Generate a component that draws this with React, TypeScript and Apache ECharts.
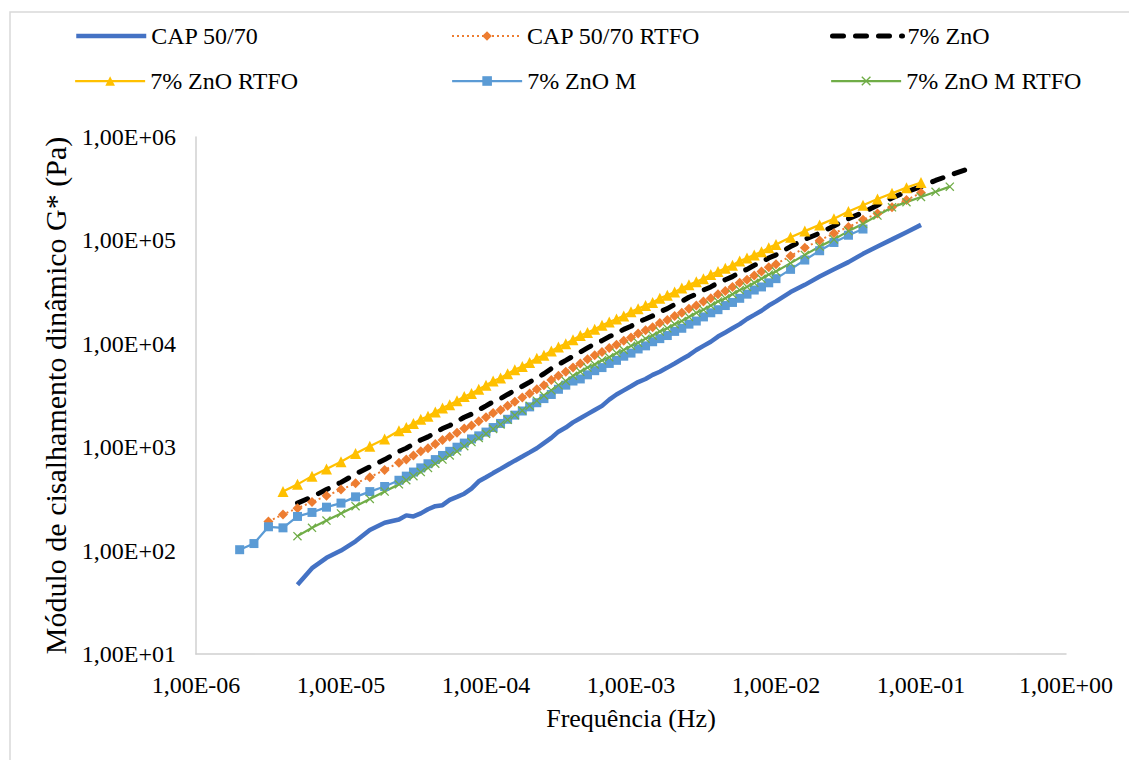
import React, { useEffect, useRef } from "react";
import * as echarts from "echarts";

// Frequency (Hz) grid, read along the x axis
const freqHz = [
  2.0e-6, 2.51e-6, 3.16e-6, 3.98e-6, 5.01e-6, 6.31e-6, 7.94e-6, 1.0e-5, 1.26e-5, 1.58e-5, 2.0e-5, 2.51e-5,
  2.82e-5, 3.16e-5, 3.55e-5, 3.98e-5, 4.47e-5, 5.01e-5, 5.62e-5, 6.31e-5, 7.08e-5, 7.94e-5, 8.91e-5,
  1.0e-4, 1.12e-4, 1.26e-4, 1.41e-4, 1.58e-4, 1.78e-4, 2.0e-4, 2.24e-4, 2.51e-4, 2.82e-4, 3.16e-4, 3.55e-4, 3.98e-4, 4.47e-4, 5.01e-4, 5.62e-4, 6.31e-4, 7.08e-4, 7.94e-4, 8.91e-4, 1.0e-3,
  1.12e-3, 1.26e-3, 1.41e-3, 1.58e-3, 1.78e-3, 2.0e-3, 2.24e-3, 2.51e-3, 2.82e-3, 3.16e-3, 3.55e-3, 3.98e-3, 4.47e-3, 5.01e-3, 5.62e-3, 6.31e-3, 7.08e-3, 7.94e-3, 8.91e-3,
  1.0e-2, 1.26e-2, 1.58e-2, 2.0e-2, 2.51e-2, 3.16e-2, 3.98e-2, 5.01e-2, 6.31e-2, 7.94e-2, 0.1, 0.126, 0.158, 0.2,
];

const seriesNames = ["CAP 50/70", "CAP 50/70 RTFO", "7% ZnO", "7% ZnO RTFO", "7% ZnO M", "7% ZnO M RTFO"];

// G* (Pa) per series, aligned with freqHz (null = no point)
const gCap = [
  null, null, null, null, 46.8, 67.6, 85.1, 100, 123, 158, 186, 200,
  219, 214, 229, 251, 269, 275, 309, 331, 355, 398, 468,
  513, 562, 617, 676, 741, 813, 891, 977, 1096, 1230, 1413, 1549, 1738, 1905, 2089, 2291, 2512, 2884, 3236, 3548, 3890,
  4266, 4571, 5012, 5370, 5888, 6457, 7079, 7762, 8710, 9550, 10470, 11750, 12880, 14130, 15490, 17380, 19050, 20890, 23440,
  25700, 31620, 37150, 44670, 52480, 61660, 74130, 87100, 102300, 120200, 141300, null, null, null,
];
const gCapRtfo = [
  null, null, 191, 224, 257, 295, 339, 389, 447, 513, 603, 708,
  759, 832, 912, 977, 1072, 1175, 1259, 1380, 1514, 1622, 1778,
  1950, 2138, 2291, 2512, 2754, 3020, 3311, 3631, 3981, 4467, 4898, 5370, 5888, 6457, 7079, 7762, 8318, 9120, 9772, 10720, 11480,
  12590, 13490, 14450, 15850, 16980, 18620, 19950, 21880, 23440, 25700, 27540, 30200, 32360, 35480, 38900, 41690, 45710, 50120, 54950,
  58880, 70790, 85110, 100000, 117500, 134900, 158500, 182000, 208900, 245500, 288400, null, null, null,
];
const gZnO = [
  null, null, null, null, 288, 331, 389, 457, 550, 646, 759, 912,
  977, 1072, 1175, 1259, 1380, 1514, 1622, 1778, 1950, 2089, 2291,
  2512, 2754, 2951, 3236, 3548, 3890, 4266, 4677, 5129, 5754, 6310, 6918, 7586, 8318, 9120, 10000, 10720, 11750, 12590, 13800, 14790,
  16220, 17380, 18620, 20420, 21880, 23990, 25700, 28180, 30200, 33110, 35480, 38900, 41690, 44670, 48980, 52480, 57540, 61660, 67610,
  72440, 87100, 102300, 117500, 138000, 162200, 186200, 218800, 257000, 295100, 331100, 380200, 426600, 478600,
];
const gZnORtfo = [
  null, null, null, 372, 437, 525, 617, 724, 871, 1020, 1200, 1445,
  1549, 1698, 1862, 1995, 2188, 2399, 2570, 2818, 3090, 3311, 3631,
  3981, 4365, 4677, 5129, 5623, 6026, 6607, 7244, 7762, 8511, 9333, 10000, 10960, 12020, 12880, 13800, 15140, 16220, 17380, 18620, 20420,
  21880, 23440, 25120, 27540, 29510, 31620, 34670, 37150, 39810, 42660, 46770, 50120, 53700, 57540, 63100, 67610, 72440, 77620, 85110,
  91200, 107200, 123000, 141300, 162200, 190500, 218800, 251200, 285000, 323600, 363100, null, null, null,
];
const gZnOM = [
  102, 117, 170, 166, 214, 234, 263, 288, 331, 372, 417, 479,
  525, 575, 631, 692, 759, 832, 912, 1000, 1096, 1202, 1288,
  1400, 1549, 1698, 1862, 2042, 2239, 2455, 2692, 2951, 3236, 3631, 3981, 4365, 4571, 5012, 5495, 5888, 6457, 6918, 7586, 8128,
  8913, 9550, 10470, 11220, 12020, 13180, 14130, 15490, 16600, 18200, 19950, 21380, 23440, 25120, 27540, 30200, 33110, 35480, 38900,
  42660, 52480, 64570, 79430, 95500, 112200, 128800, null, null, null, null, null, null, null,
];
const gZnOMRtfo = [
  null, null, null, null, 138, 166, 195, 229, 269, 316, 372, 437,
  479, 525, 575, 631, 692, 759, 832, 912, 1023, 1122, 1230,
  1349, 1500, 1660, 1840, 2042, 2265, 2512, 2818, 3162, 3548, 3981, 4365, 4898, 5370, 5888, 6310, 6918, 7413, 8128, 8710, 9550,
  10230, 11220, 12020, 13180, 14130, 15490, 16600, 18200, 19950, 21380, 23440, 25700, 27540, 30200, 33110, 35480, 38900, 42660, 46770,
  50120, 60260, 72440, 87100, 102300, 123000, 144500, 173800, 208900, 234400, 263000, 295100, 331100, null,
];

const xAxisTitle = "Frequência (Hz)";
const yAxisTitle = "Módulo de cisalhamento dinâmico G* (Pa)";

const FONT = "Liberation Serif";
const X_MARK = "path://M1,0 L5,4 L9,0 L10,1 L6,5 L10,9 L9,10 L5,6 L1,10 L0,9 L4,5 L0,1 Z";

const toPairs = (g: (number | null)[]) =>
  freqHz.map((f, i) => [f, g[i]]).filter((p) => p[1] != null);

const sci = (v: number) => {
  const e = Math.round(Math.log10(v));
  const s = e < 0 ? "-" : "+";
  return `1,00E${s}${String(Math.abs(e)).padStart(2, "0")}`;
};

const seriesStyles = [
  { color: "#4472C4", symbol: "none", size: 0, width: 4.5, type: "solid" as any },
  { color: "#ED7D31", symbol: "diamond", size: 10, width: 2, type: [2, 3] },
  { color: "#000000", symbol: "none", size: 0, width: 5, type: [11, 12] },
  { color: "#FFC000", symbol: "triangle", size: 11, width: 2.25, type: "solid" },
  { color: "#5B9BD5", symbol: "rect", size: 9, width: 2.25, type: "solid" },
  { color: "#70AD47", symbol: X_MARK, size: 9, width: 2.25, type: "solid" },
];
const seriesData = [gCap, gCapRtfo, gZnO, gZnORtfo, gZnOM, gZnOMRtfo];

export default function App() {
  const ref = useRef<HTMLDivElement>(null);
  useEffect(() => {
    document.body.style.margin = "0";
    const chart = echarts.init(ref.current!, null, { renderer: "svg" });
    const legendPos = [
      [74, 24], [451, 24], [830, 24],
      [74, 69], [451, 69], [830, 69],
    ];
    const textStyle = { fontFamily: FONT, fontSize: 24, color: "#000" };
    const option: any = {
      animation: false,
      backgroundColor: "#fff",
      textStyle: { fontFamily: FONT },
      graphic: [
        {
          type: "rect",
          shape: { x: 10, y: 12, width: 1200, height: 800 },
          style: { fill: "none", stroke: "#d9d9d9", lineWidth: 1.5 },
          silent: true,
        },
      ],
      legend: seriesNames.map((n, i) => {
        const st = seriesStyles[i];
        return {
          itemWidth: 70,
          itemHeight: 12,
          padding: 0,
          textStyle,
          left: legendPos[i][0],
          top: legendPos[i][1],
          data: [
            {
              name: n,
              lineStyle: { width: st.width, type: st.type, cap: i === 2 ? "round" : "butt" },
              itemStyle: st.symbol === "none" ? { opacity: 0 } : {},
            },
          ],
        };
      }),
      grid: { left: 196, right: 63, top: 137, bottom: 106 },
      xAxis: {
        type: "log",
        logBase: 10,
        min: 1e-6,
        max: 1,
        splitNumber: 6,
        name: xAxisTitle,
        nameLocation: "middle",
        nameGap: 51,
        nameTextStyle: { ...textStyle, fontSize: 26 },
        axisLine: { show: true, lineStyle: { color: "#d0d0d0", width: 1.5 } },
        axisTick: { show: false },
        splitLine: { show: false },
        axisLabel: { ...textStyle, formatter: sci, margin: 19, showMinLabel: true, showMaxLabel: true, hideOverlap: false },
      },
      yAxis: {
        type: "log",
        logBase: 10,
        min: 10,
        max: 1e6,
        splitNumber: 5,
        name: yAxisTitle,
        nameLocation: "middle",
        nameRotate: 90,
        nameGap: 119,
        nameTextStyle: { ...textStyle, fontSize: 30 },
        axisLine: { show: true, lineStyle: { color: "#d0d0d0", width: 1.5 } },
        axisTick: { show: false },
        splitLine: { show: false },
        axisLabel: { ...textStyle, formatter: sci, margin: 20, showMinLabel: true, showMaxLabel: true, hideOverlap: false },
      },
      series: seriesNames.map((n, i) => {
        const st = seriesStyles[i];
        return {
          name: n,
          type: "line",
          data: toPairs(seriesData[i]),
          symbol: st.symbol,
          symbolSize: st.size,
          lineStyle: { color: st.color, width: st.width, type: st.type, cap: i === 2 ? "round" : "butt" },
          itemStyle: { color: st.color },
        };
      }),
    };
    chart.setOption(option);
    return () => chart.dispose();
  }, []);
  return <div ref={ref} style={{ width: 1129, height: 760 }} />;
}
